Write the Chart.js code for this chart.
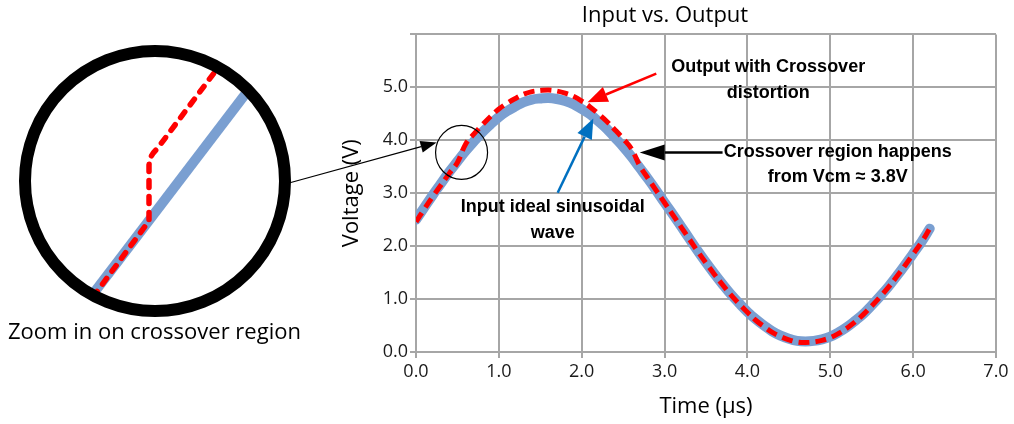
<!DOCTYPE html>
<html>
<head>
<meta charset="utf-8">
<script src="https://cdn.jsdelivr.net/npm/chart.js@4"></script>
<style>
  html, body { margin: 0; padding: 0; background: #fff; }
  #wrap { width: 1014px; height: 424px; }
</style>
</head>
<body>
<div id="wrap"><canvas id="chart" width="1014" height="424"></canvas></div>
<script>
// 시간축 (µs)
var timeValues = [0.0, 0.1, 0.2, 0.3, 0.4, 0.5, 0.6, 0.7, 0.8, 0.9,
		1.0, 1.1, 1.2, 1.3, 1.4, 1.5, 1.6, 1.7, 1.8, 1.9,
		2.0, 2.1, 2.2, 2.3, 2.4, 2.5, 2.6, 2.7, 2.8, 2.9,
		3.0, 3.1, 3.2, 3.3, 3.4, 3.5, 3.6, 3.7, 3.8, 3.9,
		4.0, 4.1, 4.2, 4.3, 4.4, 4.5, 4.6, 4.7, 4.8, 4.9,
		5.0, 5.1, 5.2, 5.3, 5.4, 5.5, 5.6, 5.7, 5.8, 5.9,
		6.0, 6.1, 6.2];

// 입력 (ideal sinusoidal)
var inputValues = [2.50, 2.73, 2.96, 3.18, 3.40, 3.60, 3.80, 3.98, 4.15, 4.30,
		4.44, 4.55, 4.64, 4.72, 4.77, 4.79, 4.80, 4.78, 4.74, 4.68,
		4.59, 4.49, 4.36, 4.22, 4.05, 3.88, 3.69, 3.48, 3.27, 3.05,
		2.82, 2.60, 2.37, 2.14, 1.91, 1.69, 1.48, 1.28, 1.09, 0.92,
		0.76, 0.62, 0.50, 0.39, 0.31, 0.25, 0.21, 0.20, 0.21, 0.24,
		0.29, 0.37, 0.47, 0.59, 0.72, 0.88, 1.05, 1.23, 1.43, 1.64,
		1.86, 2.08, 2.33];

// 출력 (crossover distortion)
var outputValues = [2.46, 2.70, 2.93, 3.15, 3.37, 3.58, 3.93, 4.12, 4.29, 4.45,
		4.59, 4.70, 4.79, 4.87, 4.92, 4.94, 4.95, 4.93, 4.89, 4.83,
		4.74, 4.63, 4.50, 4.36, 4.20, 4.03, 3.84, 3.52, 3.28, 3.05,
		2.82, 2.59, 2.36, 2.13, 1.90, 1.68, 1.47, 1.27, 1.08, 0.91,
		0.75, 0.60, 0.48, 0.37, 0.29, 0.23, 0.19, 0.18, 0.19, 0.22,
		0.27, 0.35, 0.45, 0.57, 0.71, 0.87, 1.04, 1.22, 1.42, 1.63,
		1.85, 2.07, 2.33];

var xTicks = [0, 1, 2, 3, 4, 5, 6, 7];
var yTicks = [0, 1, 2, 3, 4, 5];

var fontFace = "'Open Sans', 'Noto Sans', sans-serif";
var gridGray = '#a6a6a6';

function toPoints(ys) {
	var pts = [];
	for (var i = 0; i < timeValues.length; i++) {
		pts.push({ x : timeValues[i], y : ys[i] });
	}
	return pts;
}

function arrow(ctx, x1, y1, x2, y2, color, lw, headLen, headW) {
	var ang = Math.atan2(y2 - y1, x2 - x1);
	var bx = x2 - headLen * Math.cos(ang);
	var by = y2 - headLen * Math.sin(ang);
	ctx.save();
	ctx.strokeStyle = color;
	ctx.fillStyle = color;
	ctx.lineWidth = lw;
	ctx.beginPath();
	ctx.moveTo(x1, y1);
	ctx.lineTo(bx, by);
	ctx.stroke();
	ctx.beginPath();
	ctx.moveTo(x2, y2);
	ctx.lineTo(bx + headW / 2 * Math.sin(ang), by - headW / 2 * Math.cos(ang));
	ctx.lineTo(bx - headW / 2 * Math.sin(ang), by + headW / 2 * Math.cos(ang));
	ctx.closePath();
	ctx.fill();
	ctx.restore();
}

// 주석 그리기
var notesPlugin = {
	id : 'notes',
	afterDraw : function(chart) {
		var ctx = chart.ctx;
		var sx = chart.scales.x, sy = chart.scales.y;
		function px(v) { return sx.getPixelForValue(v); }
		function py(v) { return sy.getPixelForValue(v); }

		ctx.save();
		ctx.fillStyle = '#000';
		ctx.textAlign = 'center';
		ctx.textBaseline = 'middle';
		ctx.font = "bold 18px 'Liberation Sans', sans-serif";
		ctx.fillText('Output with Crossover', px(4.25), py(5.38));
		ctx.fillText('distortion', px(4.25), py(4.9));
		ctx.fillText('Input ideal sinusoidal', px(1.65), py(2.73));
		ctx.fillText('wave', px(1.65), py(2.25));
		ctx.fillText('Crossover region happens', px(5.09), py(3.77));
		ctx.fillText('from Vcm \u2248 3.8V', px(5.09), py(3.31));
		ctx.restore();

		arrow(ctx, px(2.9), py(5.26), px(2.07), py(4.72), '#ff0000', 2.5, 20, 16);
		arrow(ctx, px(1.71), py(3.01), px(2.14), py(4.41), '#0070c0', 2.5, 20, 16);
		arrow(ctx, px(3.7), py(3.77), px(2.7), py(3.77), '#000', 2.5, 25, 16);

		// 작은 원
		ctx.save();
		ctx.strokeStyle = '#000';
		ctx.lineWidth = 1.2;
		ctx.beginPath();
		ctx.ellipse(px(0.55), py(3.77), 26, 27, 0, 0, Math.PI * 2);
		ctx.stroke();
		ctx.restore();

		// 확대 원
		var cx = 155, cy = 181, r = 130;
		arrow(ctx, cx + r + 4, cy + 2, px(0.55) - 25, py(3.77) - 10, '#000', 1.2, 16, 12);

		ctx.save();
		ctx.beginPath();
		ctx.arc(cx, cy, r, 0, Math.PI * 2);
		ctx.clip();
		ctx.strokeStyle = '#7a9fd1';
		ctx.lineWidth = 10;
		ctx.beginPath();
		ctx.moveTo(cx - 62, cy + 113);
		ctx.lineTo(cx + 95, cy - 93);
		ctx.stroke();
		ctx.strokeStyle = '#ff0000';
		ctx.lineWidth = 5.5;
		ctx.lineCap = 'round';
		ctx.setLineDash([7, 9]);
		ctx.beginPath();
		ctx.moveTo(cx - 62, cy + 116);
		ctx.lineTo(cx - 6, cy + 40);
		ctx.lineTo(cx - 6, cy - 15);
		ctx.quadraticCurveTo(cx - 6, cy - 25, cx + 2, cy - 32);
		ctx.lineTo(cx + 62, cy - 112);
		ctx.stroke();
		ctx.restore();

		ctx.save();
		ctx.strokeStyle = '#000';
		ctx.lineWidth = 12;
		ctx.beginPath();
		ctx.arc(cx, cy, r, 0, Math.PI * 2);
		ctx.stroke();
		ctx.fillStyle = '#000';
		ctx.font = "22px " + fontFace;
		ctx.textAlign = 'left';
		ctx.textBaseline = 'middle';
		ctx.fillText('Zoom in on crossover region', 8, 333);
		ctx.restore();
	}
};

var chart = new Chart(document.getElementById('chart'), {
	type : 'line',
	data : {
		datasets : [ {
			label : 'Input',
			data : toPoints(inputValues),
			borderColor : '#7a9fd1',
			borderWidth : 10,
			pointRadius : 0,
			tension : 0.4,
			borderCapStyle : 'round',
			order : 2
		}, {
			label : 'Output',
			data : toPoints(outputValues),
			borderColor : '#ff0000',
			borderWidth : 5,
			borderDash : [ 11, 6 ],
			pointRadius : 0,
			tension : 0.4,
			order : 1
		} ]
	},
	options : {
		responsive : false,
		animation : false,
		layout : {
			padding : { left : 334, right : 18, top : 0, bottom : 0 }
		},
		plugins : {
			legend : { display : false },
			tooltip : { enabled : false },
			title : {
				display : true,
				text : 'Input vs. Output',
				color : '#000',
				font : { family : fontFace, size : 22, weight : 'normal', lineHeight : 1.2 },
				padding : { top : 3, bottom : 5 }
			}
		},
		scales : {
			x : {
				type : 'linear',
				min : 0,
				max : 7,
				afterBuildTicks : function(axis) {
					axis.ticks = xTicks.map(function(v) { return { value : v }; });
				},
				afterFit : function(axis) { axis.height = 72; },
				grid : { color : gridGray, lineWidth : 2, tickLength : 6 },
				border : { color : gridGray, width : 2 },
				ticks : {
					color : '#1a1a1a',
					padding : 3,
					font : { family : fontFace, size : 18 },
					callback : function(v) { return Number(v).toFixed(1); }
				},
				title : {
					display : true,
					text : 'Time (\u00b5s)',
					color : '#000',
					font : { family : fontFace, size : 22 },
					padding : { top : 2, bottom : 4 }
				}
			},
			y : {
				type : 'linear',
				min : 0,
				max : 6,
				afterBuildTicks : function(axis) {
					axis.ticks = yTicks.concat([6]).map(function(v) { return { value : v }; });
				},
				afterFit : function(axis) { axis.width = 82; },
				grid : { color : gridGray, lineWidth : 2, tickLength : 6 },
				border : { color : gridGray, width : 2 },
				ticks : {
					color : '#1a1a1a',
					padding : 2,
					font : { family : fontFace, size : 18 },
					callback : function(v) { return v >= 6 ? '' : Number(v).toFixed(1); }
				},
				title : {
					display : true,
					text : 'Voltage (V)',
					color : '#000',
					font : { family : fontFace, size : 22 },
					padding : { top : 5, bottom : 2 }
				}
			}
		}
	},
	plugins : [ notesPlugin ]
});
</script>
</body>
</html>
